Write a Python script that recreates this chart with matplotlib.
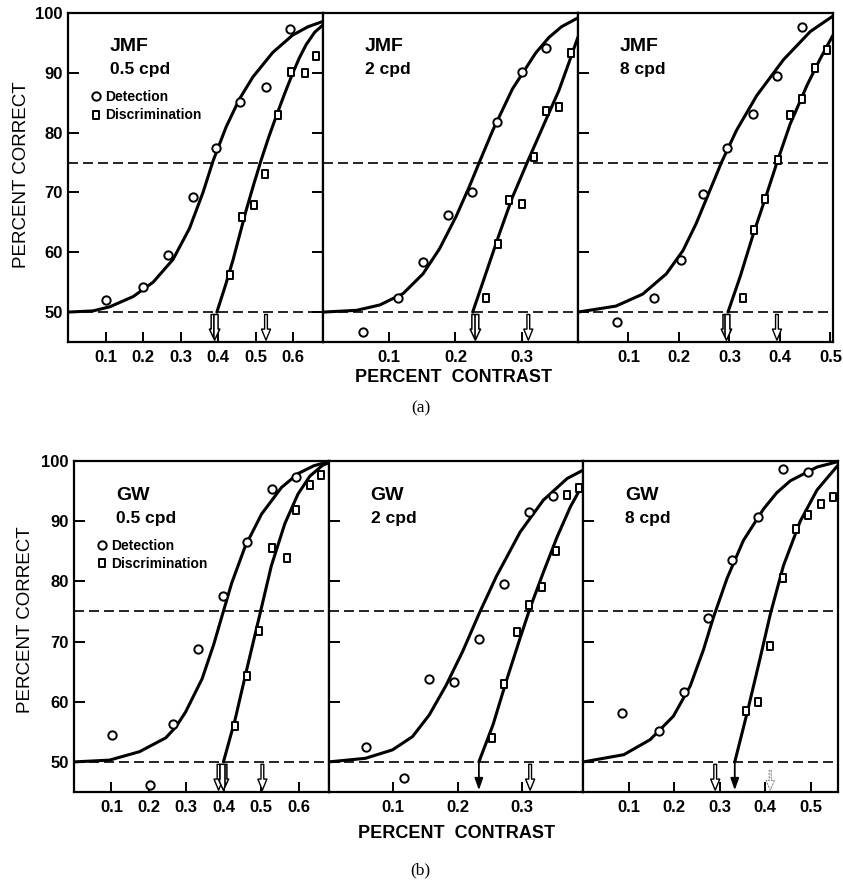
import matplotlib
matplotlib.use("Agg")
import matplotlib.pyplot as plt
from matplotlib.path import Path

plt.rcParams['font.family'] = ['Liberation Sans', 'DejaVu Sans']
plt.rcParams['font.weight'] = 'bold'
plt.rcParams['hatch.linewidth'] = 1.2

# ---------------- data (percent contrast, percent correct) ----------------
# Top row: observer JMF
jmf05_det_x = [0.101, 0.200, 0.267, 0.332, 0.395, 0.459, 0.528, 0.593]
jmf05_det_y = [52.1, 54.2, 59.6, 69.3, 77.5, 85.2, 87.6, 97.3]
jmf05_dis_x = [0.431, 0.465, 0.497, 0.526, 0.559, 0.595, 0.632, 0.660]
jmf05_dis_y = [56.2, 65.9, 67.9, 73.1, 82.9, 90.1, 90.0, 92.8]
jmf05_detfit_x = [0.0, 0.067, 0.112, 0.174, 0.227, 0.280, 0.324, 0.360, 0.387, 0.422, 0.457, 0.493, 0.546, 0.599, 0.640, 0.68]
jmf05_detfit_y = [50, 50.2, 50.9, 52.6, 55.0, 58.8, 64.0, 70.0, 75.3, 81.0, 85.6, 89.3, 93.4, 96.3, 97.7, 98.6]
jmf05_disfit_x = [0.397, 0.420, 0.440, 0.475, 0.495, 0.515, 0.535, 0.555, 0.577, 0.599, 0.617, 0.635, 0.658, 0.68]
jmf05_disfit_y = [50, 54.5, 58.7, 67.0, 71.3, 75.4, 79.2, 82.7, 86.4, 89.9, 92.5, 94.7, 96.8, 98.0]
jmf05_arrows = [0.391, 0.528]

jmf2_det_x = [0.060, 0.113, 0.151, 0.188, 0.225, 0.263, 0.300, 0.336]
jmf2_det_y = [46.6, 52.3, 58.3, 66.3, 70.0, 81.8, 90.1, 94.1]
jmf2_dis_x = [0.246, 0.264, 0.281, 0.301, 0.319, 0.336, 0.356, 0.374]
jmf2_dis_y = [52.3, 61.3, 68.8, 68.1, 75.9, 83.6, 84.3, 93.3]
jmf2_detfit_x = [0.0, 0.051, 0.086, 0.121, 0.151, 0.176, 0.201, 0.221, 0.234, 0.256, 0.286, 0.321, 0.341, 0.360, 0.385]
jmf2_detfit_y = [50, 50.3, 51.2, 53.1, 56.4, 60.6, 66.0, 71.0, 74.5, 80.3, 87.3, 93.3, 95.9, 97.7, 99.2]
jmf2_disfit_x = [0.226, 0.246, 0.266, 0.286, 0.311, 0.336, 0.356, 0.371, 0.385]
jmf2_disfit_y = [50, 56.5, 63.0, 69.2, 75.7, 82.0, 87.0, 91.6, 96.0]
jmf2_arrows = [0.230, 0.310]

jmf8_det_x = [0.078, 0.151, 0.203, 0.248, 0.296, 0.346, 0.394, 0.444]
jmf8_det_y = [48.4, 52.4, 58.7, 69.8, 77.4, 83.1, 89.5, 97.7]
jmf8_dis_x = [0.326, 0.349, 0.371, 0.396, 0.419, 0.444, 0.470, 0.493]
jmf8_dis_y = [52.4, 63.7, 68.9, 75.5, 82.9, 85.7, 90.8, 93.8]
jmf8_detfit_x = [0.0, 0.075, 0.128, 0.175, 0.208, 0.234, 0.261, 0.284, 0.314, 0.354, 0.407, 0.460, 0.505]
jmf8_detfit_y = [50, 51.0, 53.0, 56.4, 60.3, 64.8, 70.3, 75.0, 80.4, 86.2, 92.2, 96.9, 99.5]
jmf8_disfit_x = [0.297, 0.321, 0.347, 0.374, 0.394, 0.420, 0.454, 0.480, 0.505]
jmf8_disfit_y = [50, 55.9, 63.0, 69.8, 75.0, 81.4, 88.0, 92.4, 96.3]
jmf8_arrows = [0.294, 0.394]

# Bottom row: observer GW
gw05_det_x = [0.102, 0.203, 0.265, 0.331, 0.397, 0.461, 0.529, 0.593]
gw05_det_y = [54.5, 46.1, 56.3, 68.7, 77.5, 86.6, 95.3, 97.3]
gw05_dis_x = [0.430, 0.463, 0.494, 0.530, 0.570, 0.593, 0.629, 0.660]
gw05_dis_y = [55.9, 64.3, 71.8, 85.5, 83.8, 91.9, 96.0, 97.7]
gw05_detfit_x = [0.0, 0.095, 0.175, 0.245, 0.272, 0.298, 0.342, 0.373, 0.395, 0.421, 0.457, 0.501, 0.554, 0.598, 0.64, 0.68]
gw05_detfit_y = [50, 50.3, 51.7, 54.0, 55.8, 58.3, 63.8, 69.5, 74.2, 79.7, 85.8, 91.2, 95.6, 97.9, 99.2, 99.9]
gw05_disfit_x = [0.399, 0.430, 0.461, 0.497, 0.527, 0.563, 0.598, 0.630, 0.664, 0.68]
gw05_disfit_y = [50, 57.0, 65.3, 74.7, 82.6, 89.6, 94.5, 97.5, 99.3, 99.7]
gw05_arrows = [0.386, 0.399, 0.503]

gw2_det_x = [0.058, 0.117, 0.156, 0.195, 0.233, 0.272, 0.310, 0.348]
gw2_det_y = [52.4, 47.3, 63.7, 63.2, 70.5, 79.6, 91.5, 94.2]
gw2_dis_x = [0.253, 0.272, 0.292, 0.311, 0.331, 0.352, 0.370, 0.388]
gw2_dis_y = [54.0, 62.9, 71.6, 76.1, 79.1, 85.0, 94.4, 95.5]
gw2_detfit_x = [0.0, 0.057, 0.099, 0.130, 0.156, 0.182, 0.208, 0.234, 0.260, 0.297, 0.333, 0.370, 0.395]
gw2_detfit_y = [50, 50.6, 52.0, 54.2, 57.8, 62.7, 68.4, 74.8, 80.8, 88.2, 93.5, 97.1, 98.5]
gw2_disfit_x = [0.233, 0.255, 0.276, 0.297, 0.3125, 0.333, 0.354, 0.375, 0.395]
gw2_disfit_y = [50, 56.2, 63.6, 70.6, 75.6, 81.5, 87.3, 92.4, 96.3]
gw2_arrows = [0.233, 0.3125]

gw8_det_x = [0.085, 0.167, 0.222, 0.275, 0.328, 0.383, 0.438, 0.493]
gw8_det_y = [58.1, 55.2, 61.6, 73.9, 83.6, 90.7, 98.6, 98.1]
gw8_dis_x = [0.358, 0.385, 0.411, 0.439, 0.467, 0.494, 0.523, 0.550]
gw8_dis_y = [58.5, 60.0, 69.2, 80.5, 88.7, 91.0, 92.9, 94.1]
gw8_detfit_x = [0.0, 0.089, 0.147, 0.198, 0.235, 0.264, 0.286, 0.316, 0.352, 0.396, 0.425, 0.455, 0.514, 0.56]
gw8_detfit_y = [50, 51.2, 53.7, 57.6, 62.6, 68.6, 74.0, 80.5, 86.8, 92.0, 94.7, 96.7, 99.0, 99.9]
gw8_disfit_x = [0.333, 0.360, 0.389, 0.411, 0.440, 0.477, 0.514, 0.56]
gw8_disfit_y = [50, 58.1, 67.3, 74.5, 82.6, 90.0, 95.2, 99.3]
gw8_arrows = [0.290, 0.333, 0.411]

observers = ['JMF', 'JMF', 'JMF', 'GW', 'GW', 'GW']
freqs = ['0.5 cpd', '2 cpd', '8 cpd', '0.5 cpd', '2 cpd', '8 cpd']
xmax = [0.68, 0.385, 0.505, 0.68, 0.395, 0.56]
xticks_list = [[0.1, 0.2, 0.3, 0.4, 0.5, 0.6], [0.1, 0.2, 0.3], [0.1, 0.2, 0.3, 0.4, 0.5],
               [0.1, 0.2, 0.3, 0.4, 0.5, 0.6], [0.1, 0.2, 0.3], [0.1, 0.2, 0.3, 0.4, 0.5]]
yticks = [50, 60, 70, 80, 90, 100]
criterion_levels = [50, 75]

panels = [
    (jmf05_det_x, jmf05_det_y, jmf05_dis_x, jmf05_dis_y, jmf05_detfit_x, jmf05_detfit_y, jmf05_disfit_x, jmf05_disfit_y, jmf05_arrows),
    (jmf2_det_x, jmf2_det_y, jmf2_dis_x, jmf2_dis_y, jmf2_detfit_x, jmf2_detfit_y, jmf2_disfit_x, jmf2_disfit_y, jmf2_arrows),
    (jmf8_det_x, jmf8_det_y, jmf8_dis_x, jmf8_dis_y, jmf8_detfit_x, jmf8_detfit_y, jmf8_disfit_x, jmf8_disfit_y, jmf8_arrows),
    (gw05_det_x, gw05_det_y, gw05_dis_x, gw05_dis_y, gw05_detfit_x, gw05_detfit_y, gw05_disfit_x, gw05_disfit_y, gw05_arrows),
    (gw2_det_x, gw2_det_y, gw2_dis_x, gw2_dis_y, gw2_detfit_x, gw2_detfit_y, gw2_disfit_x, gw2_disfit_y, gw2_arrows),
    (gw8_det_x, gw8_det_y, gw8_dis_x, gw8_dis_y, gw8_detfit_x, gw8_detfit_y, gw8_disfit_x, gw8_disfit_y, gw8_arrows),
]
# arrow kinds per panel (style only)
arrow_kinds = [['thick', 'hollow'], ['thick', 'hollow'], ['thick', 'hollow'],
               ['hollow', 'thick', 'hollow'], ['solid', 'hollow'], ['hollow', 'solid', 'faint']]

# ---------------- figure ----------------
W, H = 843, 882
fig = plt.figure(figsize=(W / 100, H / 100), dpi=100)

rect_marker = Path([(-0.6, -1), (0.6, -1), (0.6, 1), (-0.6, 1), (-0.6, -1)],
                   [Path.MOVETO, Path.LINETO, Path.LINETO, Path.LINETO, Path.CLOSEPOLY])

rows = [(68, 833, 13, 342), (74, 838, 461, 792)]
axes = []
for r, (l, rr, t, b) in enumerate(rows):
    w = (rr - l) / 3
    for c in range(3):
        ax = fig.add_axes([(l + c * w) / W, 1 - b / H, w / W, (b - t) / H])
        axes.append(ax)


def draw_arrow(ax, x, kind):
    if kind == 'thick':
        ax.annotate('', xy=(x, 45.3), xytext=(x, 49.6),
                    arrowprops=dict(arrowstyle='simple,head_width=0.75,head_length=0.8,tail_width=0.5',
                                    fc='white', ec='black', lw=1.1, hatch='|||',
                                    shrinkA=0, shrinkB=0))
    elif kind == 'hollow':
        ax.annotate('', xy=(x, 45.3), xytext=(x, 49.6),
                    arrowprops=dict(arrowstyle='simple,head_width=0.65,head_length=0.8,tail_width=0.2',
                                    fc='white', ec='black', lw=1.0, shrinkA=0, shrinkB=0))
    elif kind == 'faint':
        ax.annotate('', xy=(x, 45.3), xytext=(x, 48.6),
                    arrowprops=dict(arrowstyle='simple,head_width=0.6,head_length=0.7,tail_width=0.15',
                                    fc='white', ec='0.55', lw=0.8, ls=(0, (1.5, 1.5)), shrinkA=0, shrinkB=0))
    else:
        ax.annotate('', xy=(x, 45.3), xytext=(x, 50.0),
                    arrowprops=dict(arrowstyle='-|>,head_width=0.25,head_length=0.7',
                                    fc='black', ec='black', lw=1.3, shrinkA=0, shrinkB=0))


for i, ax in enumerate(axes):
    dx, dy, sx, sy, fdx, fdy, fsx, fsy, arr = panels[i]
    ax.set_xlim(0, xmax[i])
    ax.set_ylim(45, 100)
    for lev in criterion_levels:
        ax.axhline(lev, color='black', lw=1.2, ls=(0, (6, 3)), zorder=1)
    ax.plot(fdx, fdy, color='black', lw=2.2, solid_capstyle='round', solid_joinstyle='round', zorder=3)
    ax.plot(fsx, fsy, color='black', lw=2.2, solid_capstyle='round', solid_joinstyle='round', zorder=3)
    ax.plot(dx, dy, ls='none', marker='o', ms=6, mfc='white', mec='black', mew=1.4,
            zorder=4, label='Detection')
    ax.plot(sx, sy, ls='none', marker=rect_marker, ms=6.3, mfc='white', mec='black', mew=1.4,
            zorder=4, label='Discrimination')
    for x, kind in zip(arr, arrow_kinds[i]):
        draw_arrow(ax, x, kind)

    ax.set_xticks(xticks_list[i])
    ax.set_xticklabels([f'{v:.1f}' for v in xticks_list[i]])
    ax.tick_params(axis='x', direction='in', length=7, width=1.4, labelsize=12, pad=6)
    ax.set_yticks(yticks)
    col = i % 3
    if col == 0:
        ax.tick_params(axis='y', direction='in', length=8, width=1.4, labelsize=12, pad=4)
    else:
        ax.tick_params(axis='y', direction='in', length=8, width=1.4, labelleft=False)
    if i == 1:
        ax.tick_params(axis='y', length=0)
        axes[0].tick_params(axis='y', right=True)
    for s in ax.spines.values():
        s.set_linewidth(1.6)

    ax.text(0.165, 0.897, observers[i], transform=ax.transAxes, fontsize=14,
            va='center', ha='left')
    ax.text(0.165, 0.827, freqs[i], transform=ax.transAxes, fontsize=12.5,
            va='center', ha='left')
    if col == 0:
        ax.legend(loc='upper left', bbox_to_anchor=(0.095, 0.765), frameon=False,
                  fontsize=10, handlelength=0.6, handletextpad=0.35, labelspacing=0.3,
                  borderpad=0, borderaxespad=0)

# axis labels
for yc, xc in [(175, 22), (620, 26)]:
    fig.text(xc / W, 1 - yc / H, 'PERCENT CORRECT', rotation=90, fontsize=13.5,
             fontweight='normal', ha='center', va='center')
fig.text(454 / W, 1 - 378 / H, 'PERCENT  CONTRAST', fontsize=13, ha='center', va='center')
fig.text(457 / W, 1 - 833 / H, 'PERCENT  CONTRAST', fontsize=13, ha='center', va='center')
fig.text(421 / W, 1 - 408 / H, '(a)', fontsize=12.5, family='Liberation Serif',
         fontweight='normal', ha='center', va='center')
fig.text(420 / W, 1 - 870 / H, '(b)', fontsize=12.5, family='Liberation Serif',
         fontweight='normal', ha='center', va='center')

fig.savefig('out.png', dpi=100)
